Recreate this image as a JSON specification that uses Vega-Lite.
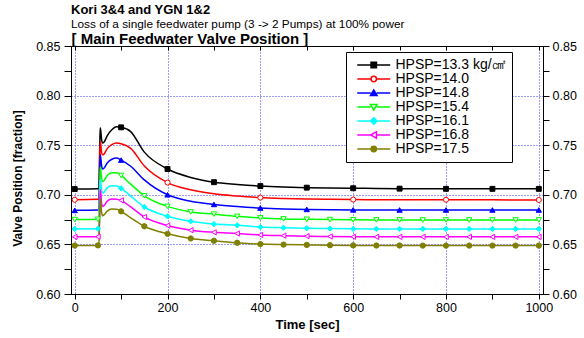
{
  "$schema": "https://vega.github.io/schema/vega-lite/v6.json",
  "width": 472,
  "height": 248,
  "autosize": {"type": "none"},
  "padding": {"left": 71, "top": 46, "right": 41, "bottom": 44},
  "background": "white",
  "config": {
    "font": "Liberation Sans",
    "view": {"stroke": "black", "strokeWidth": 1},
    "axis": {"domainColor": "black", "tickColor": "black", "labelColor": "black", "titleColor": "black", "labelFont": "Liberation Sans", "titleFont": "Liberation Sans"},
    "legend": {
      "orient": "none", "legendX": 275, "legendY": 6,
      "fillColor": "white", "strokeColor": "black", "strokeWidth": 1,
      "padding": 6, "labelFont": "Liberation Sans", "labelFontSize": 14, "labelColor": "black",
      "symbolSize": 144, "symbolStrokeWidth": 1.5, "symbolOffset": 14.75, "labelOffset": 14.75, "rowPadding": -5
    }
  },
  "title": {
    "text": "Kori 3&4 and YGN 1&2",
    "subtitle": "Loss of a single feedwater pump (3 -> 2 Pumps) at 100% power",
    "anchor": "start", "frame": "group",
    "font": "Liberation Sans", "fontSize": 13, "fontWeight": "bold", "color": "black",
    "subtitleFont": "Liberation Sans", "subtitleFontSize": 11.8, "subtitleColor": "black",
    "subtitlePadding": 2, "offset": 0
  },
  "data": {"values": [
{"s":"13.3","t":0,"v":0.7058},{"s":"13.3","t":50,"v":0.7062},{"s":"13.3","t":52,"v":0.7068},{"s":"13.3","t":54,"v":0.750},{"s":"13.3","t":55,"v":0.7676},{"s":"13.3","t":56,"v":0.765},{"s":"13.3","t":58,"v":0.7555},{"s":"13.3","t":60,"v":0.7521},{"s":"13.3","t":63,"v":0.7530},{"s":"13.3","t":70,"v":0.7595},{"s":"13.3","t":80,"v":0.7655},{"s":"13.3","t":90,"v":0.7685},{"s":"13.3","t":100,"v":0.7680},{"s":"13.3","t":120,"v":0.7640},{"s":"13.3","t":150,"v":0.7430},{"s":"13.3","t":200,"v":0.7260},{"s":"13.3","t":250,"v":0.7175},{"s":"13.3","t":300,"v":0.7127},{"s":"13.3","t":350,"v":0.7105},{"s":"13.3","t":400,"v":0.7088},{"s":"13.3","t":450,"v":0.7078},{"s":"13.3","t":500,"v":0.7072},{"s":"13.3","t":550,"v":0.7068},{"s":"13.3","t":600,"v":0.7066},{"s":"13.3","t":650,"v":0.7064},{"s":"13.3","t":700,"v":0.7062},{"s":"13.3","t":750,"v":0.7061},{"s":"13.3","t":800,"v":0.7060},{"s":"13.3","t":850,"v":0.7060},{"s":"13.3","t":900,"v":0.7060},{"s":"13.3","t":950,"v":0.7060},{"s":"13.3","t":1000,"v":0.7060},
{"s":"14.0","t":0,"v":0.6950},{"s":"14.0","t":50,"v":0.6954},{"s":"14.0","t":52,"v":0.6960},{"s":"14.0","t":54,"v":0.737},{"s":"14.0","t":55,"v":0.7537},{"s":"14.0","t":56,"v":0.751},{"s":"14.0","t":58,"v":0.7425},{"s":"14.0","t":60,"v":0.7403},{"s":"14.0","t":63,"v":0.7410},{"s":"14.0","t":70,"v":0.7465},{"s":"14.0","t":80,"v":0.7505},{"s":"14.0","t":90,"v":0.7521},{"s":"14.0","t":100,"v":0.7515},{"s":"14.0","t":120,"v":0.7470},{"s":"14.0","t":150,"v":0.7290},{"s":"14.0","t":200,"v":0.7123},{"s":"14.0","t":250,"v":0.7050},{"s":"14.0","t":300,"v":0.7010},{"s":"14.0","t":350,"v":0.6988},{"s":"14.0","t":400,"v":0.6972},{"s":"14.0","t":450,"v":0.6963},{"s":"14.0","t":500,"v":0.6957},{"s":"14.0","t":550,"v":0.6954},{"s":"14.0","t":600,"v":0.6952},{"s":"14.0","t":650,"v":0.6951},{"s":"14.0","t":700,"v":0.6950},{"s":"14.0","t":750,"v":0.6950},{"s":"14.0","t":800,"v":0.6950},{"s":"14.0","t":850,"v":0.6949},{"s":"14.0","t":900,"v":0.6949},{"s":"14.0","t":950,"v":0.6948},{"s":"14.0","t":1000,"v":0.6948},
{"s":"14.8","t":0,"v":0.6843},{"s":"14.8","t":50,"v":0.6847},{"s":"14.8","t":52,"v":0.6852},{"s":"14.8","t":54,"v":0.724},{"s":"14.8","t":55,"v":0.7403},{"s":"14.8","t":56,"v":0.738},{"s":"14.8","t":58,"v":0.729},{"s":"14.8","t":60,"v":0.7260},{"s":"14.8","t":63,"v":0.7268},{"s":"14.8","t":70,"v":0.7320},{"s":"14.8","t":80,"v":0.7358},{"s":"14.8","t":90,"v":0.7370},{"s":"14.8","t":100,"v":0.7350},{"s":"14.8","t":120,"v":0.7290},{"s":"14.8","t":150,"v":0.7150},{"s":"14.8","t":200,"v":0.7000},{"s":"14.8","t":250,"v":0.6935},{"s":"14.8","t":300,"v":0.6903},{"s":"14.8","t":350,"v":0.6882},{"s":"14.8","t":400,"v":0.6867},{"s":"14.8","t":450,"v":0.6858},{"s":"14.8","t":500,"v":0.6853},{"s":"14.8","t":550,"v":0.6850},{"s":"14.8","t":600,"v":0.6848},{"s":"14.8","t":650,"v":0.6847},{"s":"14.8","t":700,"v":0.6847},{"s":"14.8","t":750,"v":0.6847},{"s":"14.8","t":800,"v":0.6847},{"s":"14.8","t":850,"v":0.6847},{"s":"14.8","t":900,"v":0.6847},{"s":"14.8","t":950,"v":0.6847},{"s":"14.8","t":1000,"v":0.6847},
{"s":"15.4","t":0,"v":0.6750},{"s":"15.4","t":50,"v":0.6753},{"s":"15.4","t":52,"v":0.6758},{"s":"15.4","t":54,"v":0.712},{"s":"15.4","t":55,"v":0.7280},{"s":"15.4","t":56,"v":0.726},{"s":"15.4","t":58,"v":0.7165},{"s":"15.4","t":60,"v":0.7135},{"s":"15.4","t":63,"v":0.7142},{"s":"15.4","t":70,"v":0.7195},{"s":"15.4","t":80,"v":0.7222},{"s":"15.4","t":90,"v":0.7223},{"s":"15.4","t":100,"v":0.7195},{"s":"15.4","t":120,"v":0.7110},{"s":"15.4","t":150,"v":0.6990},{"s":"15.4","t":200,"v":0.6883},{"s":"15.4","t":250,"v":0.6827},{"s":"15.4","t":300,"v":0.6805},{"s":"15.4","t":350,"v":0.6783},{"s":"15.4","t":400,"v":0.6767},{"s":"15.4","t":450,"v":0.6757},{"s":"15.4","t":500,"v":0.6753},{"s":"15.4","t":550,"v":0.6750},{"s":"15.4","t":600,"v":0.6748},{"s":"15.4","t":650,"v":0.6747},{"s":"15.4","t":700,"v":0.6747},{"s":"15.4","t":750,"v":0.6746},{"s":"15.4","t":800,"v":0.6746},{"s":"15.4","t":850,"v":0.6746},{"s":"15.4","t":900,"v":0.6746},{"s":"15.4","t":950,"v":0.6746},{"s":"15.4","t":1000,"v":0.6746},
{"s":"16.1","t":0,"v":0.6656},{"s":"16.1","t":50,"v":0.6658},{"s":"16.1","t":52,"v":0.6662},{"s":"16.1","t":54,"v":0.700},{"s":"16.1","t":55,"v":0.7159},{"s":"16.1","t":56,"v":0.714},{"s":"16.1","t":58,"v":0.7045},{"s":"16.1","t":60,"v":0.7018},{"s":"16.1","t":63,"v":0.7025},{"s":"16.1","t":70,"v":0.7070},{"s":"16.1","t":80,"v":0.7090},{"s":"16.1","t":90,"v":0.7088},{"s":"16.1","t":100,"v":0.7065},{"s":"16.1","t":120,"v":0.6990},{"s":"16.1","t":150,"v":0.6877},{"s":"16.1","t":200,"v":0.6783},{"s":"16.1","t":250,"v":0.6733},{"s":"16.1","t":300,"v":0.6705},{"s":"16.1","t":350,"v":0.6693},{"s":"16.1","t":400,"v":0.6675},{"s":"16.1","t":450,"v":0.6668},{"s":"16.1","t":500,"v":0.6663},{"s":"16.1","t":550,"v":0.6660},{"s":"16.1","t":600,"v":0.6657},{"s":"16.1","t":650,"v":0.6656},{"s":"16.1","t":700,"v":0.6656},{"s":"16.1","t":750,"v":0.6656},{"s":"16.1","t":800,"v":0.6656},{"s":"16.1","t":850,"v":0.6656},{"s":"16.1","t":900,"v":0.6656},{"s":"16.1","t":950,"v":0.6656},{"s":"16.1","t":1000,"v":0.6656},
{"s":"16.8","t":0,"v":0.6576},{"s":"16.8","t":50,"v":0.6578},{"s":"16.8","t":52,"v":0.6582},{"s":"16.8","t":54,"v":0.690},{"s":"16.8","t":55,"v":0.7051},{"s":"16.8","t":56,"v":0.703},{"s":"16.8","t":58,"v":0.691},{"s":"16.8","t":60,"v":0.6883},{"s":"16.8","t":63,"v":0.6890},{"s":"16.8","t":70,"v":0.6935},{"s":"16.8","t":80,"v":0.6957},{"s":"16.8","t":90,"v":0.6955},{"s":"16.8","t":100,"v":0.6944},{"s":"16.8","t":120,"v":0.6880},{"s":"16.8","t":150,"v":0.6777},{"s":"16.8","t":200,"v":0.6690},{"s":"16.8","t":250,"v":0.6643},{"s":"16.8","t":300,"v":0.6622},{"s":"16.8","t":350,"v":0.6610},{"s":"16.8","t":400,"v":0.6595},{"s":"16.8","t":450,"v":0.6588},{"s":"16.8","t":500,"v":0.6583},{"s":"16.8","t":550,"v":0.6580},{"s":"16.8","t":600,"v":0.6577},{"s":"16.8","t":650,"v":0.6576},{"s":"16.8","t":700,"v":0.6576},{"s":"16.8","t":750,"v":0.6576},{"s":"16.8","t":800,"v":0.6576},{"s":"16.8","t":850,"v":0.6576},{"s":"16.8","t":900,"v":0.6576},{"s":"16.8","t":950,"v":0.6576},{"s":"16.8","t":1000,"v":0.6576},
{"s":"17.5","t":0,"v":0.6488},{"s":"17.5","t":50,"v":0.6490},{"s":"17.5","t":52,"v":0.6494},{"s":"17.5","t":54,"v":0.681},{"s":"17.5","t":55,"v":0.6958},{"s":"17.5","t":56,"v":0.694},{"s":"17.5","t":58,"v":0.682},{"s":"17.5","t":60,"v":0.6790},{"s":"17.5","t":63,"v":0.6797},{"s":"17.5","t":70,"v":0.6835},{"s":"17.5","t":80,"v":0.6856},{"s":"17.5","t":90,"v":0.6855},{"s":"17.5","t":100,"v":0.6833},{"s":"17.5","t":120,"v":0.6770},{"s":"17.5","t":150,"v":0.6683},{"s":"17.5","t":200,"v":0.6607},{"s":"17.5","t":250,"v":0.6560},{"s":"17.5","t":300,"v":0.6537},{"s":"17.5","t":350,"v":0.6517},{"s":"17.5","t":400,"v":0.6503},{"s":"17.5","t":450,"v":0.6498},{"s":"17.5","t":500,"v":0.6495},{"s":"17.5","t":550,"v":0.6492},{"s":"17.5","t":600,"v":0.6490},{"s":"17.5","t":650,"v":0.6489},{"s":"17.5","t":700,"v":0.6489},{"s":"17.5","t":750,"v":0.6488},{"s":"17.5","t":800,"v":0.6488},{"s":"17.5","t":850,"v":0.6488},{"s":"17.5","t":900,"v":0.6488},{"s":"17.5","t":950,"v":0.6488},{"s":"17.5","t":1000,"v":0.6488}
  ]},
  "resolve": {"axis": {"x": "independent", "y": "independent"}},
  "layer": [
    {
      "mark": {"type": "line", "interpolate": "monotone", "strokeWidth": 1.5},
      "encoding": {
        "x": {"field": "t", "type": "quantitative",
          "scale": {"domain": [-8, 1009], "nice": false, "zero": false},
          "axis": {"orient": "bottom", "values": [0,100,200,300,400,500,600,700,800,900,1000],
            "labelExpr": "datum.value % 200 == 0 ? format(datum.value, 'd') : ''",
            "title": "Time [sec]", "titleFontSize": 13, "titleFontWeight": "bold", "titlePadding": 5,
            "labelFontSize": 12.5, "labelPadding": 2, "tickSize": 5, "labelFlush": false,
            "grid": true, "gridColor": "#3a3aff", "gridDash": [1, 2], "gridWidth": 1,
            "gridOpacity": {"condition": {"test": "datum.value % 200 == 0", "value": 1}, "value": 0}}},
        "y": {"field": "v", "type": "quantitative",
          "scale": {"domain": [0.6, 0.85], "nice": false, "zero": false},
          "axis": {"orient": "left", "values": [0.6,0.625,0.65,0.675,0.7,0.725,0.75,0.775,0.8,0.825,0.85],
            "labelExpr": "round(datum.value*1000) % 50 == 0 ? format(datum.value, '.2f') : ''",
            "title": "Valve Position [fraction]", "titleFontSize": 12, "titleFontWeight": "bold",
            "titleX": -54, "titleY": 132, "titleAngle": -90, "titleBaseline": "middle", "titleAlign": "center",
            "labelFontSize": 12.5, "labelPadding": 4, "tickSize": 7, "labelFlush": false,
            "grid": true, "gridColor": "#3a3aff", "gridDash": [1, 2], "gridWidth": 1,
            "gridOpacity": {"condition": {"test": "round(datum.value*1000) % 50 == 0", "value": 1}, "value": 0}}},
        "stroke": {"field": "s", "type": "nominal",
          "scale": {"domain": ["13.3","14.0","14.8","15.4","16.1","16.8","17.5"], "range": ["#000000","#ff0000","#0000ff","#00ff00","#00ffff","#ff00ff","#808000"]},
          "legend": {"title": null, "labelExpr": "datum.value == '13.3' ? 'HPSP=13.3 kg/㎠' : 'HPSP=' + datum.value"}},
        "detail": {"field": "s"}
      }
    },
    {
      "transform": [{"filter": "datum.s == '13.3' && datum.t % 100 == 0"}],
      "mark": {"type": "point", "shape": "square", "filled": true, "fill": "#000000", "stroke": "#000000", "strokeWidth": 1, "size": 24, "opacity": 1},
      "encoding": {
        "x": {"field": "t", "type": "quantitative",
          "axis": {"orient": "top", "values": [0,100,200,300,400,500,600,700,800,900,1000], "labels": false,
            "tickSize": -4, "grid": false,
            "title": "[ Main Feedwater Valve Position ]", "titleFontSize": 15, "titleFontWeight": "bold",
            "titleX": 0, "titleY": -3, "titleAlign": "left", "titleBaseline": "alphabetic", "titleAngle": 0}},
        "y": {"field": "v", "type": "quantitative",
          "axis": {"orient": "right", "values": [0.6,0.625,0.65,0.675,0.7,0.725,0.75,0.775,0.8,0.825,0.85],
            "labelExpr": "round(datum.value*1000) % 50 == 0 ? format(datum.value, '.2f') : ''",
            "title": null, "labelFontSize": 12.5, "labelPadding": 3, "tickSize": 6, "grid": false, "labelFlush": false}}
      }
    },
    {
      "transform": [{"filter": "datum.s == '14.0' && datum.t % 200 == 0"}],
      "mark": {"type": "point", "shape": "circle", "filled": true, "fill": "#ffffff", "stroke": "#ff0000", "strokeWidth": 1, "size": 26, "opacity": 1},
      "encoding": {"x": {"field": "t", "type": "quantitative", "axis": null}, "y": {"field": "v", "type": "quantitative", "axis": null}}
    },
    {
      "transform": [{"filter": "datum.s == '14.8' && datum.t % 100 == 0"}],
      "mark": {"type": "point", "shape": "triangle-up", "filled": true, "fill": "#0000ff", "stroke": "#0000ff", "strokeWidth": 1, "size": 28, "opacity": 1},
      "encoding": {"x": {"field": "t", "type": "quantitative", "axis": null}, "y": {"field": "v", "type": "quantitative", "axis": null}}
    },
    {
      "transform": [{"filter": "datum.s == '15.4' && datum.t % 50 == 0"}],
      "mark": {"type": "point", "shape": "triangle-down", "filled": true, "fill": "#ffffff", "stroke": "#00ff00", "strokeWidth": 1, "size": 28, "opacity": 1},
      "encoding": {"x": {"field": "t", "type": "quantitative", "axis": null}, "y": {"field": "v", "type": "quantitative", "axis": null}}
    },
    {
      "transform": [{"filter": "datum.s == '16.1' && datum.t % 50 == 0"}],
      "mark": {"type": "point", "shape": "diamond", "filled": true, "fill": "#00ffff", "stroke": "#00ffff", "strokeWidth": 1, "size": 28, "opacity": 1},
      "encoding": {"x": {"field": "t", "type": "quantitative", "axis": null}, "y": {"field": "v", "type": "quantitative", "axis": null}}
    },
    {
      "transform": [{"filter": "datum.s == '16.8' && datum.t % 50 == 0"}],
      "mark": {"type": "point", "shape": "triangle-left", "filled": true, "fill": "#ffffff", "stroke": "#ff00ff", "strokeWidth": 1, "size": 28, "opacity": 1},
      "encoding": {"x": {"field": "t", "type": "quantitative", "axis": null}, "y": {"field": "v", "type": "quantitative", "axis": null}}
    },
    {
      "transform": [{"filter": "datum.s == '17.5' && datum.t % 50 == 0"}],
      "mark": {"type": "point", "shape": "circle", "filled": true, "fill": "#808000", "stroke": "#808000", "strokeWidth": 1, "size": 28, "opacity": 1},
      "encoding": {"x": {"field": "t", "type": "quantitative", "axis": null}, "y": {"field": "v", "type": "quantitative", "axis": null}}
    },
    {
      "transform": [{"filter": "false"}],
      "mark": {"type": "point", "filled": true, "opacity": 1},
      "encoding": {
        "stroke": {"field": "s", "type": "nominal",
          "scale": {"domain": ["13.3","14.0","14.8","15.4","16.1","16.8","17.5"], "range": ["#000000","#ff0000","#0000ff","#00ff00","#00ffff","#ff00ff","#808000"]},
          "legend": {"title": null, "labelExpr": "datum.value == '13.3' ? 'HPSP=13.3 kg/㎠' : 'HPSP=' + datum.value"}},
        "fill": {"field": "s", "type": "nominal",
          "scale": {"domain": ["13.3","14.0","14.8","15.4","16.1","16.8","17.5"], "range": ["#000000","#ffffff","#0000ff","#ffffff","#00ffff","#ffffff","#808000"]},
          "legend": {"title": null, "labelExpr": "datum.value == '13.3' ? 'HPSP=13.3 kg/㎠' : 'HPSP=' + datum.value"}},
        "shape": {"field": "s", "type": "nominal",
          "scale": {"domain": ["13.3","14.0","14.8","15.4","16.1","16.8","17.5"], "range": [
            "M-2.75,0H-0.45M0.45,0H2.75M-0.45,-0.45H0.45V0.45H-0.45Z",
            "M-2.75,0H-0.45M0.45,0H2.75M-0.45,0A0.45,0.45,0,1,0,0.45,0A0.45,0.45,0,1,0,-0.45,0Z",
            "M-2.75,0H-0.5M0.5,0H2.75M0,-0.5L0.55,0.4H-0.55Z",
            "M-2.75,0H-0.5M0.5,0H2.75M0,0.5L0.55,-0.4H-0.55Z",
            "M-2.75,0H-0.55M0.55,0H2.75M0,-0.55L0.55,0L0,0.55L-0.55,0Z",
            "M-2.75,0H-0.5M0.45,0H2.75M-0.5,0L0.45,-0.55V0.55Z",
            "M-2.75,0H-0.45M0.45,0H2.75M-0.45,0A0.45,0.45,0,1,0,0.45,0A0.45,0.45,0,1,0,-0.45,0Z"]},
          "legend": {"title": null, "labelExpr": "datum.value == '13.3' ? 'HPSP=13.3 kg/㎠' : 'HPSP=' + datum.value"}}
      }
    }
  ]
}
